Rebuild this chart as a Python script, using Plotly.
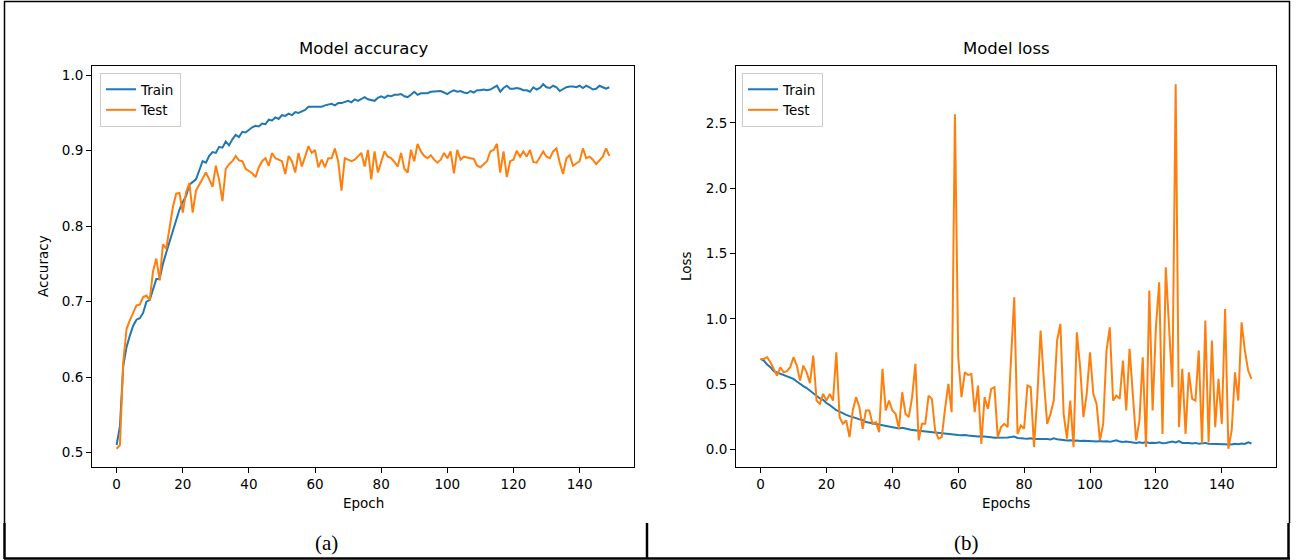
import plotly.graph_objects as go

epochs = list(range(150))

train_acc = [0.51, 0.535, 0.615, 0.64, 0.655, 0.668, 0.676, 0.678, 0.685, 0.70,
             0.702, 0.715, 0.73, 0.73, 0.75, 0.765, 0.78, 0.795, 0.81, 0.822,
             0.832, 0.84, 0.855, 0.858, 0.862, 0.874, 0.886, 0.884, 0.893, 0.898,
             0.897, 0.905, 0.904, 0.912, 0.907, 0.915, 0.921, 0.918, 0.925, 0.924,
             0.928, 0.931, 0.933, 0.932, 0.936, 0.935, 0.941, 0.94, 0.944, 0.942,
             0.947, 0.946, 0.949, 0.947, 0.951, 0.95, 0.952, 0.954, 0.958, 0.958,
             0.958, 0.959, 0.958, 0.96, 0.961, 0.962, 0.96, 0.963, 0.963, 0.964,
             0.966, 0.964, 0.968, 0.966, 0.969, 0.971, 0.968, 0.967, 0.966, 0.97,
             0.972, 0.97, 0.973, 0.972, 0.974, 0.974, 0.975, 0.972, 0.971, 0.974,
             0.978, 0.974, 0.976, 0.976, 0.976, 0.978, 0.978, 0.979, 0.979, 0.977,
             0.975, 0.978, 0.98, 0.978, 0.979, 0.977, 0.976, 0.979, 0.977, 0.98,
             0.98, 0.981, 0.98, 0.981, 0.983, 0.986, 0.978, 0.983, 0.986, 0.982,
             0.982, 0.983, 0.982, 0.98, 0.98, 0.978, 0.984, 0.981, 0.983, 0.988,
             0.984, 0.983, 0.986, 0.984, 0.979, 0.982, 0.984, 0.985, 0.985, 0.984,
             0.986, 0.983, 0.986, 0.984, 0.981, 0.982, 0.986, 0.984, 0.982, 0.984]

test_acc = [0.505, 0.51, 0.62, 0.664, 0.675, 0.685, 0.695, 0.696, 0.706, 0.708,
            0.702, 0.74, 0.757, 0.728, 0.776, 0.77, 0.80, 0.825, 0.843, 0.844,
            0.818, 0.845, 0.857, 0.818, 0.847, 0.855, 0.865, 0.871, 0.862, 0.852,
            0.88, 0.861, 0.833, 0.876, 0.882, 0.886, 0.893, 0.887, 0.886, 0.876,
            0.873, 0.87, 0.865, 0.878, 0.886, 0.89, 0.88, 0.897, 0.89, 0.888,
            0.886, 0.869, 0.893, 0.886, 0.871, 0.897, 0.879, 0.892, 0.906, 0.897,
            0.901, 0.878, 0.888, 0.878, 0.89, 0.89, 0.903, 0.886, 0.847, 0.89,
            0.888, 0.886, 0.888, 0.893, 0.897, 0.879, 0.901, 0.862, 0.899, 0.871,
            0.885, 0.899, 0.892, 0.89, 0.885, 0.879, 0.897, 0.876, 0.871, 0.901,
            0.886, 0.909, 0.899, 0.893, 0.89, 0.894, 0.888, 0.884, 0.888, 0.897,
            0.89, 0.899, 0.87, 0.901, 0.888, 0.892, 0.891, 0.89, 0.889, 0.88,
            0.878, 0.882, 0.886, 0.899, 0.901, 0.909, 0.871, 0.899, 0.865, 0.886,
            0.888, 0.90, 0.892, 0.899, 0.892, 0.901, 0.885, 0.884, 0.892, 0.899,
            0.892, 0.89, 0.899, 0.903, 0.884, 0.869, 0.89, 0.894, 0.88, 0.883,
            0.886, 0.903, 0.89, 0.892, 0.888, 0.882, 0.887, 0.892, 0.903, 0.893]

train_loss = [0.693, 0.68, 0.65, 0.63, 0.60, 0.59, 0.58, 0.57, 0.555, 0.55,
              0.54, 0.52, 0.50, 0.485, 0.47, 0.45, 0.43, 0.415, 0.39, 0.38,
              0.355, 0.34, 0.32, 0.30, 0.29, 0.275, 0.265, 0.255, 0.25, 0.24,
              0.23, 0.225, 0.21, 0.205, 0.20, 0.20, 0.195, 0.19, 0.185, 0.18,
              0.172, 0.168, 0.16, 0.165, 0.162, 0.155, 0.148, 0.145, 0.142, 0.14,
              0.14, 0.138, 0.133, 0.13, 0.128, 0.125, 0.12, 0.115, 0.115, 0.113,
              0.11, 0.108, 0.11, 0.106, 0.103, 0.10, 0.099, 0.10, 0.096, 0.094,
              0.093, 0.09, 0.09, 0.089, 0.088, 0.092, 0.095, 0.099, 0.088, 0.084,
              0.083, 0.082, 0.085, 0.08, 0.081, 0.079, 0.078, 0.08, 0.076, 0.085,
              0.078, 0.074, 0.071, 0.068, 0.07, 0.066, 0.068, 0.064, 0.066, 0.063,
              0.065, 0.062, 0.061, 0.064, 0.06, 0.062, 0.058, 0.063, 0.07, 0.06,
              0.057, 0.061, 0.056, 0.052, 0.05, 0.054, 0.05, 0.056, 0.049, 0.051,
              0.05, 0.055, 0.048, 0.05, 0.053, 0.06, 0.054, 0.064, 0.05, 0.052,
              0.049, 0.045, 0.05, 0.044, 0.046, 0.05, 0.043, 0.042, 0.045, 0.04,
              0.041, 0.039, 0.042, 0.038, 0.044, 0.04, 0.046, 0.042, 0.055, 0.045]

test_loss = [0.693, 0.693, 0.706, 0.667, 0.616, 0.565, 0.629, 0.59, 0.60, 0.629,
             0.706, 0.642, 0.527, 0.642, 0.59, 0.507, 0.719, 0.374, 0.349, 0.425,
             0.374, 0.425, 0.374, 0.744, 0.247, 0.196, 0.221, 0.094, 0.298, 0.40,
             0.323, 0.158, 0.298, 0.298, 0.196, 0.209, 0.132, 0.617, 0.298, 0.374,
             0.298, 0.272, 0.158, 0.438, 0.272, 0.247, 0.40, 0.655, 0.069, 0.196,
             0.196, 0.412, 0.387, 0.145, 0.082, 0.094, 0.31, 0.502, 0.285, 2.566,
             0.706, 0.40, 0.59, 0.57, 0.577, 0.285, 0.489, 0.043, 0.40, 0.31,
             0.464, 0.476, 0.094, 0.171, 0.196, 0.171, 0.681, 1.165, 0.119, 0.183,
             0.158, 0.489, 0.476, 0.018, 0.40, 0.91, 0.527, 0.196, 0.272, 0.374,
             0.833, 0.961, 0.272, 0.082, 0.374, 0.018, 0.897, 0.629, 0.247, 0.425,
             0.744, 0.425, 0.349, 0.069, 0.196, 0.757, 0.935, 0.374, 0.412, 0.387,
             0.681, 0.298, 0.77, 0.425, 0.069, 0.221, 0.706, 0.018, 1.216, 0.298,
             0.935, 1.28, 0.119, 1.394, 0.935, 0.476, 2.796, 0.171, 0.617, 0.119,
             0.59, 0.387, 0.374, 0.757, 0.043, 0.986, 0.056, 0.833, 0.171, 0.54,
             0.196, 1.075, 0.005, 0.145, 0.59, 0.374, 0.973, 0.757, 0.604, 0.54]

x_ticks = [0, 20, 40, 60, 80, 100, 120, 140]
acc_ticks = [0.5, 0.6, 0.7, 0.8, 0.9, 1.0]
loss_ticks = [0.0, 0.5, 1.0, 1.5, 2.0, 2.5]

BLUE = "#1f77b4"
ORANGE = "#ff7f0e"
FONT = "DejaVu Sans"
W, H = 1296, 560


def px(x):
    return x / W


def py(y):
    return 1 - y / H


fig = go.Figure()
fig.add_trace(go.Scatter(x=epochs, y=train_acc, mode="lines", name="Train",
                         line=dict(color=BLUE, width=2), xaxis="x", yaxis="y", legend="legend"))
fig.add_trace(go.Scatter(x=epochs, y=test_acc, mode="lines", name="Test",
                         line=dict(color=ORANGE, width=2), xaxis="x", yaxis="y", legend="legend"))
fig.add_trace(go.Scatter(x=epochs, y=train_loss, mode="lines", name="Train",
                         line=dict(color=BLUE, width=2), xaxis="x2", yaxis="y2", legend="legend2"))
fig.add_trace(go.Scatter(x=epochs, y=test_loss, mode="lines", name="Test",
                         line=dict(color=ORANGE, width=2), xaxis="x2", yaxis="y2", legend="legend2"))

axis_common = dict(showline=True, linecolor="black", linewidth=1, mirror=True,
                   ticks="outside", ticklen=5, tickwidth=1, tickcolor="black",
                   showgrid=False, zeroline=False,
                   tickfont=dict(family=FONT, size=13.5, color="black"))


def data_range(vals, frac=0.05):
    lo, hi = min(vals), max(vals)
    m = (hi - lo) * frac
    return [lo - m, hi + m]


xr = data_range(epochs)
acc_r = data_range(train_acc + test_acc)
loss_r = data_range(train_loss + test_loss)

legend_common = dict(xanchor="left", yanchor="top",
                     bgcolor="rgba(255,255,255,0.8)", bordercolor="#cccccc", borderwidth=1,
                     font=dict(family=FONT, size=13.5, color="black"), tracegroupgap=0)

fig.update_layout(
    width=W, height=H,
    margin=dict(l=0, r=0, t=0, b=0),
    paper_bgcolor="white", plot_bgcolor="white",
    font=dict(family=FONT, color="black"),
    xaxis=dict(domain=[px(92), px(634)], range=xr, tickvals=x_ticks, anchor="y", **axis_common),
    yaxis=dict(domain=[py(467), py(66)], range=acc_r, tickvals=acc_ticks, tickformat=".1f",
               anchor="x", **axis_common),
    xaxis2=dict(domain=[px(736), px(1276)], range=xr, tickvals=x_ticks, anchor="y2", **axis_common),
    yaxis2=dict(domain=[py(467), py(66)], range=loss_r, tickvals=loss_ticks, tickformat=".1f",
                anchor="x2", **axis_common),
    legend=dict(x=px(100), y=py(73), **legend_common),
    legend2=dict(x=px(742), y=py(73), **legend_common),
    showlegend=True,
)

annotations = [
    dict(text="Model accuracy", x=px(363), y=py(48), size=16.5),
    dict(text="Model loss", x=px(1006), y=py(48), size=16.5),
    dict(text="Epoch", x=px(363), y=py(503), size=13.5),
    dict(text="Epochs", x=px(1006), y=py(503), size=13.5),
]
for a in annotations:
    fig.add_annotation(text=a["text"], x=a["x"], y=a["y"], xref="paper", yref="paper",
                       xanchor="center", yanchor="middle", showarrow=False,
                       font=dict(family=FONT, size=a["size"], color="black"))

fig.add_annotation(text="Accuracy", x=px(43), y=py(266), xref="paper", yref="paper",
                   xanchor="center", yanchor="middle", showarrow=False, textangle=-90,
                   font=dict(family=FONT, size=13.5, color="black"))
fig.add_annotation(text="Loss", x=px(686), y=py(266), xref="paper", yref="paper",
                   xanchor="center", yanchor="middle", showarrow=False, textangle=-90,
                   font=dict(family=FONT, size=13.5, color="black"))

for txt, cx in [("(a)", 326), ("(b)", 966)]:
    fig.add_annotation(text=txt, x=px(cx), y=py(543), xref="paper", yref="paper",
                       xanchor="center", yanchor="middle", showarrow=False,
                       font=dict(family="Liberation Serif", size=21, color="black"))

# table frame lines
lines = [
    (4, 1.5, 1290, 1.5, 1.5),
    (4.5, 1, 4.5, 523, 1.5),
    (4.5, 523, 4.5, 559, 2.5),
    (1289.5, 1, 1289.5, 523, 1.5),
    (1288.5, 523, 1288.5, 559, 2.5),
    (4, 558.5, 1290, 558.5, 2.5),
    (647, 523, 647, 559, 2.5),
]
for x0, y0, x1, y1, w in lines:
    fig.add_shape(type="line", xref="paper", yref="paper",
                  x0=px(x0), y0=py(y0), x1=px(x1), y1=py(y1),
                  line=dict(color="black", width=w))

fig.write_html("out.html", config={"displayModeBar": False},
               post_script="document.body.style.margin='0';document.body.style.overflow='hidden';")
